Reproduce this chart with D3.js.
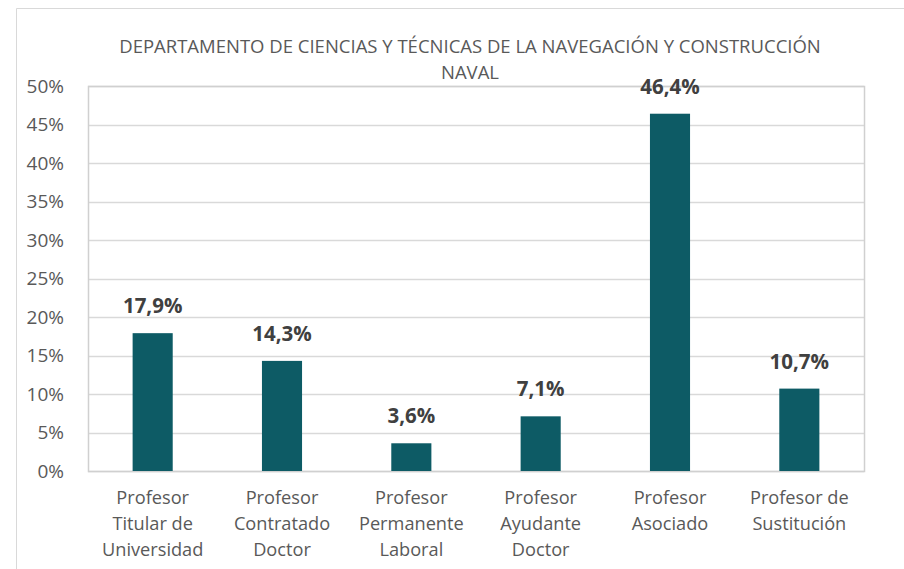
<!DOCTYPE html>
<html>
<head>
<meta charset="utf-8">
<script src="https://cdn.jsdelivr.net/npm/d3@7"></script>
<style>
  body { margin: 0; background: #fff; }
</style>
</head>
<body>
<svg id="chart" width="904" height="569" font-family="Open Sans, Liberation Sans, sans-serif"></svg>
<script>
const categories = [
  ["Profesor", "Titular de", "Universidad"],
  ["Profesor", "Contratado", "Doctor"],
  ["Profesor", "Permanente", "Laboral"],
  ["Profesor", "Ayudante", "Doctor"],
  ["Profesor", "Asociado"],
  ["Profesor de", "Sustitución"]
];
const values = [0.179, 0.143, 0.036, 0.071, 0.464, 0.107];
const yTicks = [0, 0.05, 0.10, 0.15, 0.20, 0.25, 0.30, 0.35, 0.40, 0.45, 0.50];
const titleLines = ["DEPARTAMENTO DE CIENCIAS Y TÉCNICAS DE LA NAVEGACIÓN Y CONSTRUCCIÓN", "NAVAL"];

const margin = { top: 86, right: 40, bottom: 98, left: 88 };
const width = 904, height = 569;
const svg = d3.select("svg#chart");

// outer chart frame
svg.append("path")
  .attr("d", "M16.5,569 V8.5 H904")
  .attr("fill", "none")
  .attr("stroke", "#d9d9d9");

const idx = d3.range(values.length);

// SCALES
const xScale = d3.scaleBand()
  .domain(idx)
  .range([margin.left, width - margin.right])
  .paddingInner(0.69)
  .paddingOuter(0.345);

const yScale = d3.scaleLinear()
  .domain([0, 0.5])
  .range([height - margin.bottom, margin.top]);

// gridlines
svg.append("g")
  .selectAll("line")
  .data(yTicks)
  .join("line")
  .attr("x1", margin.left)
  .attr("x2", width - margin.right)
  .attr("y1", d => Math.round(yScale(d)) + 0.5)
  .attr("y2", d => Math.round(yScale(d)) + 0.5)
  .attr("stroke", "#d9d9d9")
  .attr("stroke-width", 1.5);

// plot area border
svg.append("rect")
  .attr("x", margin.left + 0.5)
  .attr("y", Math.round(yScale(0.5)) + 0.5)
  .attr("width", width - margin.right - margin.left)
  .attr("height", yScale(0) - yScale(0.5))
  .attr("fill", "none")
  .attr("stroke", "#d0d0d0")
  .attr("stroke-width", 1.5);

// AXIS (y labels only)
const yAxis = g => g.attr("transform", `translate(${margin.left - 24},0)`)
  .call(d3.axisLeft(yScale).tickValues(yTicks).tickSize(0).tickPadding(0)
    .tickFormat(d => Math.round(d * 100) + "%"))
  .call(g => g.select(".domain").remove())
  .call(g => g.selectAll("text")
    .attr("font-size", 19)
    .attr("fill", "#595959")
    .attr("font-family", "Open Sans, sans-serif"));
svg.append("g").call(yAxis);

// BARS
svg.append("g")
  .selectAll("rect")
  .data(values)
  .join("rect")
  .attr("x", (d, i) => xScale(i))
  .attr("y", d => yScale(d))
  .attr("width", xScale.bandwidth())
  .attr("height", d => yScale(0) - yScale(d))
  .attr("fill", "#0d5b65");

// data labels
svg.append("g")
  .selectAll("text")
  .data(values)
  .join("text")
  .attr("x", (d, i) => xScale(i) + xScale.bandwidth() / 2)
  .attr("y", d => yScale(d) - 20)
  .attr("text-anchor", "middle")
  .attr("font-size", 20.5)
  .attr("font-weight", "bold")
  .attr("fill", "#404040")
  .text(d => (d * 100).toFixed(1).replace(".", ",") + "%");

// category labels
const xl = svg.append("g")
  .selectAll("text")
  .data(categories)
  .join("text")
  .attr("x", (d, i) => xScale(i) + xScale.bandwidth() / 2)
  .attr("y", 504)
  .attr("text-anchor", "middle")
  .attr("font-size", 18.2)
  .attr("fill", "#595959");
xl.selectAll("tspan")
  .data(d => d)
  .join("tspan")
  .attr("x", function () { return d3.select(this.parentNode).attr("x"); })
  .attr("dy", (d, i) => i === 0 ? 0 : 26)
  .text(d => d);

// title
svg.append("g")
  .selectAll("text")
  .data(titleLines)
  .join("text")
  .attr("x", 470)
  .attr("y", (d, i) => 53 + i * 26)
  .attr("text-anchor", "middle")
  .attr("font-size", 18.5)
  .attr("fill", "#595959")
  .text(d => d);
</script>
</body>
</html>
